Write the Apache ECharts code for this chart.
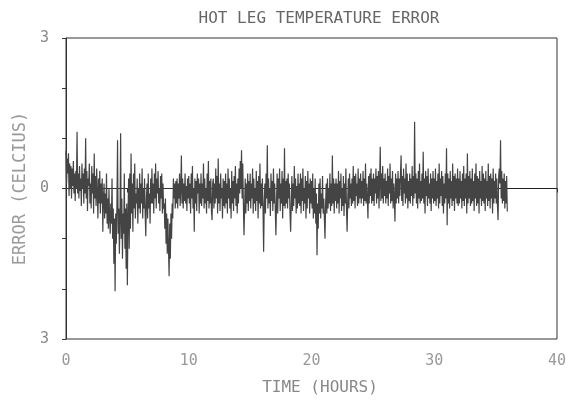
<!DOCTYPE html>
<html>
<head>
<meta charset="utf-8">
<script src="https://cdn.jsdelivr.net/npm/echarts@6/dist/echarts.min.js"></script>
<style>html,body{margin:0;padding:0;background:#fff}#c{width:576px;height:402px}</style>
</head>
<body>
<div id="c"></div>
<script>
// Sample spacing (hours) of the recorded error trace
const timeStep = 0.05;
// Temperature error (Celsius), one value per 0.05 h (20 per hour), 0 to 35.95 h
const errorValues = [
  // 0 h
  0.75, 0.1, 0.6, 0.3, 0.7, -0.15, 0.5, 0.0, 0.45, -0.2, 0.4, 0.05, 0.55, -0.1, 0.3, -0.25, 0.35, 0.0, 1.13, -0.1,
  // 1 h
  0.3, -0.2, 0.45, -0.05, 0.2, -0.35, 0.5, 0.0, 0.3, -0.3, 0.4, -0.1, 1.0, -0.2, 0.35, -0.45, 0.2, 0.05, 0.5, -0.3,
  // 2 h
  0.1, -0.4, 0.45, -0.1, 0.3, -0.5, 0.7, -0.2, 0.25, -0.35, 0.4, -0.1, -0.6, 0.2, -0.3, 0.35, -0.5, 0.1, -0.3, 0.2,
  // 3 h
  -0.86, -0.2, 0.1, -0.6, -0.1, -0.5, 0.3, -0.7, -0.2, -0.8, 0.0, -0.6, -0.9, -0.3, -0.7, 0.2, -1.0, -0.4, -1.5, -0.6,
  // 4 h
  -2.05, -0.5, -1.1, -0.3, 0.96, -0.9, -0.4, -1.3, -0.6, 1.1, -1.0, -0.2, -1.4, -0.5, -0.9, 0.3, -1.2, -0.4, -1.6, -0.3,
  // 5 h
  -1.93, -0.6, 0.2, -1.2, 0.3, -0.8, 0.7, -0.5, 0.1, -0.86, 0.3, -0.4, 0.5, -0.6, -0.1, -0.3, 0.2, -0.7, 0.0, -0.4,
  // 6 h
  0.3, -0.5, 0.1, -0.3, 0.4, -0.6, 0.0, -0.4, 0.2, -0.5, -0.95, -0.2, 0.1, -0.6, 0.3, -0.4, -0.1, -0.7, 0.2, -0.3,
  // 7 h
  0.4, -0.3, 0.1, -0.5, 0.3, -0.2, 0.5, -0.4, 0.2, -0.1, 0.35, -0.3, 0.0, -0.45, 0.25, -0.2, 0.3, -0.5, 0.1, -0.4,
  // 8 h
  -0.3, -0.8, -0.2, -1.1, -0.5, -1.3, -0.6, -1.2, -1.75, -0.7, -1.4, -0.5, -1.0, -0.3, -0.6, 0.2, -0.2, 0.1, -0.4, 0.15,
  // 9 h
  -0.3, 0.2, -0.4, 0.1, -0.2, 0.3, -0.35, 0.0, 0.66, -0.3, 0.2, -0.4, 0.1, -0.25, 0.3, -0.3, 0.05, -0.45, 0.2, -0.2,
  // 10 h
  0.25, -0.3, 0.1, -0.5, 0.3, -0.2, 0.45, -0.4, 0.0, -0.86, 0.2, -0.3, 0.15, -0.45, 0.3, -0.1, 0.2, -0.5, 0.1, -0.3,
  // 11 h
  0.3, -0.35, 0.1, -0.2, 0.5, -0.4, 0.2, -0.3, 0.0, -0.5, 0.3, -0.25, 0.55, -0.4, 0.15, -0.3, 0.2, -0.45, -0.63, 0.1,
  // 12 h
  0.2, -0.4, 0.1, -0.3, 0.4, -0.2, 0.25, -0.5, 0.6, -0.3, 0.1, -0.45, 0.3, -0.2, 0.0, -0.6, 0.2, -0.35, 0.15, -0.4,
  // 13 h
  0.3, -0.3, 0.1, -0.5, 0.4, -0.2, 0.2, -0.4, 0.0, -0.6, 0.35, -0.3, 0.15, -0.45, 0.25, -0.2, 0.45, -0.35, 0.1, -0.5,
  // 14 h
  0.2, -0.3, 0.4, -0.1, 0.55, 0.0, 0.76, -0.2, 0.5, -0.3, -0.93, -0.4, 0.2, -0.5, 0.1, -0.3, 0.3, -0.45, 0.15, -0.25,
  // 15 h
  0.3, -0.4, 0.1, -0.2, 0.4, -0.5, 0.2, -0.3, 0.0, -0.45, 0.35, -0.25, 0.15, -0.6, 0.25, -0.3, 0.5, -0.4, 0.1, -0.35,
  // 16 h
  0.2, -0.4, -1.26, -0.3, 0.1, -0.5, 0.3, -0.2, 0.86, -0.4, 0.2, -0.3, 0.0, -0.55, 0.3, -0.25, 0.15, -0.45, 0.4, -0.3,
  // 17 h
  0.1, -0.4, -0.93, -0.3, 0.3, -0.5, 0.2, -0.2, 0.4, -0.45, 0.1, -0.3, 0.35, -0.6, 0.2, -0.35, 0.8, -0.4, 0.15, -0.3,
  // 18 h
  0.2, -0.4, 0.3, -0.2, 0.1, -0.5, -0.86, -0.3, 0.25, -0.45, 0.1, -0.35, 0.45, -0.2, 0.2, -0.5, 0.05, -0.4, 0.3, -0.3,
  // 19 h
  0.1, -0.35, 0.3, -0.5, 0.2, -0.25, 0.4, -0.45, 0.0, -0.3, 0.25, -0.6, 0.15, -0.4, 0.35, -0.2, 0.1, -0.5, 0.2, -0.3,
  // 20 h
  0.15, -0.4, 0.3, -0.6, 0.0, -0.5, 0.2, -0.7, -0.1, -1.33, -0.3, -0.8, 0.1, -0.5, 0.2, -0.6, -0.1, -0.4, 0.25, -0.5,
  // 21 h
  -0.2, -0.6, -1.0, -0.3, 0.1, -0.5, 0.2, -0.4, 0.0, -0.3, 0.3, -0.45, 0.1, -0.35, 0.66, -0.3, 0.2, -0.5, 0.1, -0.25,
  // 22 h
  0.2, -0.4, 0.1, -0.3, 0.35, -0.5, 0.15, -0.2, 0.3, -0.45, 0.0, -0.35, 0.25, -0.55, 0.1, -0.3, 0.4, -0.4, -0.86, -0.25,
  // 23 h
  0.2, -0.4, 0.3, -0.2, 0.1, -0.35, 0.2, -0.3, 0.45, -0.25, 0.25, -0.4, 0.3, -0.15, 0.1, -0.35, 0.4, -0.3, 0.2, -0.2,
  // 24 h
  0.3, -0.3, 0.15, -0.2, 0.35, -0.35, 0.2, -0.25, 0.5, -0.3, 0.1, -0.2, -0.6, 0.25, -0.3, 0.3, -0.15, 0.4, -0.3, 0.2,
  // 25 h
  -0.25, 0.3, -0.35, 0.2, -0.1, 0.4, -0.3, 0.25, -0.2, 0.35, -0.4, 0.15, 0.83, -0.25, 0.3, -0.2, 0.45, -0.3, 0.2, -0.15,
  // 26 h
  0.3, -0.3, 0.15, -0.2, 0.4, -0.35, 0.25, -0.1, 0.5, -0.3, 0.2, -0.25, 0.35, -0.4, 0.1, -0.2, -0.66, 0.3, -0.3, 0.2,
  // 27 h
  -0.2, 0.35, -0.3, 0.2, -0.15, 0.3, 0.66, -0.25, 0.25, -0.35, 0.4, -0.1, 0.2, -0.3, 0.5, -0.2, 0.3, -0.4, 0.15, -0.25,
  // 28 h
  0.3, -0.3, 0.2, -0.15, 0.45, -0.35, 0.25, -0.2, 1.33, -0.1, 0.3, -0.3, 0.2, -0.4, 0.35, -0.2, 0.5, -0.3, 0.15, -0.25,
  // 29 h
  0.3, -0.2, 0.73, -0.3, 0.2, -0.5, 0.35, -0.15, 0.25, -0.35, 0.4, -0.2, 0.1, -0.3, 0.3, -0.45, 0.2, -0.2, 0.35, -0.3,
  // 30 h
  0.2, -0.25, 0.4, -0.35, 0.15, -0.2, 0.3, -0.4, 0.5, -0.3, 0.2, -0.15, 0.35, -0.35, 0.25, -0.5, 0.1, -0.3, 0.3, -0.2,
  // 31 h
  0.8, -0.73, 0.3, -0.3, 0.2, -0.4, 0.35, -0.2, 0.15, -0.35, 0.5, -0.25, 0.25, -0.45, 0.3, -0.2, 0.2, -0.3, 0.4, -0.35,
  // 32 h
  0.2, -0.3, 0.35, -0.2, 0.15, -0.4, 0.3, -0.25, 0.45, -0.35, 0.2, -0.2, 0.3, -0.5, 0.7, -0.3, 0.25, -0.2, 0.35, -0.35,
  // 33 h
  0.2, -0.3, 0.4, -0.25, 0.15, -0.45, 0.3, -0.2, 0.5, -0.35, 0.25, -0.3, 0.2, -0.5, 0.35, -0.2, 0.15, -0.35, 0.45, -0.25,
  // 34 h
  0.3, -0.3, 0.2, -0.45, 0.35, -0.2, 0.15, -0.35, 0.5, -0.25, 0.25, -0.4, 0.3, -0.2, 0.2, -0.5, 0.4, -0.3, 0.15, -0.2,
  // 35 h
  0.3, -0.3, 0.2, -0.35, -0.63, 0.25, 0.4, 0.1, 0.96, -0.2, 0.35, -0.3, 0.2, -0.25, 0.3, -0.4, 0.15, -0.3, 0.25, -0.46
];
// Flat zero trace after the record ends
const tailTimes = [35.95, 40];
const tailValues = [0, 0];
// Tick labels
const xTickLabels = {0: '0', 10: '10', 20: '20', 30: '30', 40: '40'};
const yTickLabels = {'3': '3', '0': '0', '-3': '3'};

const errorSeries = errorValues.map((v, i) => [+(i * timeStep).toFixed(2), v]);
const tailSeries = tailTimes.map((t, i) => [t, tailValues[i]]);

const font = 'DejaVu Sans Mono';
const chart = echarts.init(document.getElementById('c'), null, {renderer: 'canvas'});
chart.setOption({
  animation: false,
  backgroundColor: '#fff',
  title: {
    text: 'HOT LEG TEMPERATURE ERROR',
    left: 314, top: 6, textAlign: 'center',
    textStyle: {fontFamily: font, fontSize: 16, fontWeight: 'normal', color: '#666'}
  },
  grid: {left: 66, right: 19, top: 38, bottom: 63, show: true, borderColor: '#333', borderWidth: 1},
  xAxis: {
    type: 'value', min: 0, max: 40, interval: 5,
    name: 'TIME (HOURS)', nameLocation: 'middle', nameGap: 41,
    nameTextStyle: {fontFamily: font, fontSize: 16, color: '#888', padding: [0, 0, 0, 17]},
    axisLine: {lineStyle: {color: '#333', width: 1}},
    axisTick: {inside: false, length: 4, lineStyle: {color: '#333'}},
    axisLabel: {fontFamily: font, fontSize: 15, color: '#999', margin: 15,
      formatter: v => (v in xTickLabels ? xTickLabels[v] : '')},
    splitLine: {show: false}
  },
  yAxis: {
    type: 'value', min: -3, max: 3, interval: 1,
    name: 'ERROR (CELCIUS)', nameLocation: 'middle', nameGap: 35,
    nameTextStyle: {fontFamily: font, fontSize: 17, color: '#999'},
    axisLine: {show: true, lineStyle: {color: '#333', width: 1}},
    axisTick: {show: true, inside: false, length: 4, lineStyle: {color: '#333'}},
    axisLabel: {fontFamily: font, fontSize: 15, color: '#888', margin: 17,
      formatter: v => (String(v) in yTickLabels ? yTickLabels[String(v)] : '')},
    splitLine: {show: false}
  },
  series: [
    {
      type: 'line', data: errorSeries, showSymbol: false, symbol: 'none',
      lineStyle: {color: '#444', width: 1.2}, silent: true
    },
    {
      type: 'line', data: tailSeries, showSymbol: false, symbol: 'none',
      lineStyle: {color: '#222', width: 1}, silent: true
    }
  ]
});
</script>
</body>
</html>
